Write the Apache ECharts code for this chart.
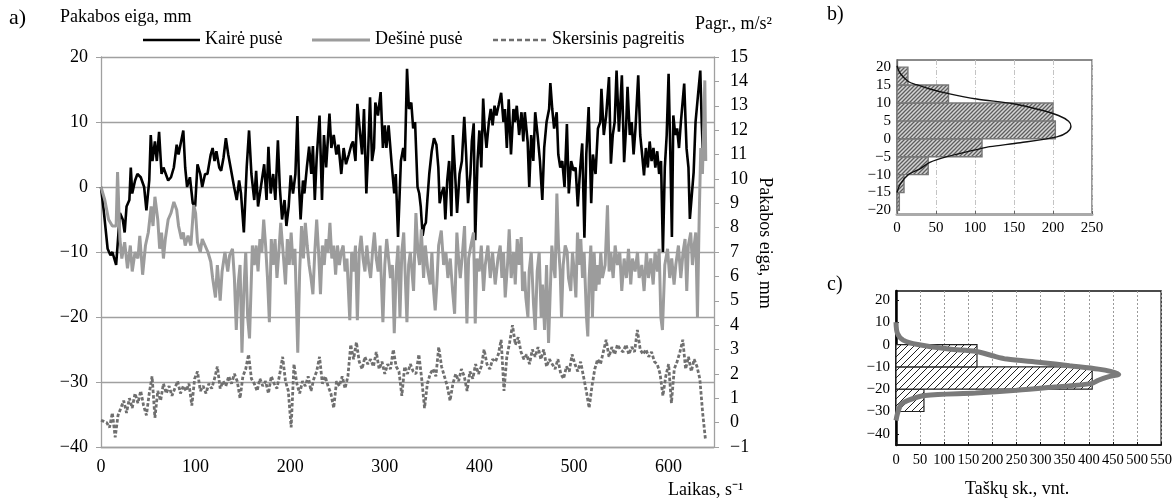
<!DOCTYPE html>
<html><head><meta charset="utf-8">
<script src="https://cdn.jsdelivr.net/npm/echarts@6/dist/echarts.min.js"></script>
<style>html,body{margin:0;padding:0;background:#fff}#c{width:1175px;height:500px}</style>
</head><body><div id="c"></div>
<script>
// ---- DATA ----
const xTicks = [0,100,200,300,400,500,600];
const bYTicks = [-20,-15,-10,-5,0,5,10,15,20];
const cYTicks = [-40,-30,-20,-10,0,10,20];
const legendNames = ['Kairė pusė','Dešinė pusė','Skersinis pagreitis'];

// Kairė pusė [time s, mm]
const kaire = [[0,0],[3,-3.8],[7,-9.5],[10,-10.5],[12,-10],[16,-12],[18,-12],[20,-4],[23,-5],[25,-7],[27,-3],[30,-2],[31.5,3],[33,-1],[36,1],[38.5,2],[42,1.5],[45.6,0],[48,-3.6],[51,1],[52.6,8],[54.4,4],[57,7],[59,4],[61.4,8.5],[64,2],[66,3],[68.5,2],[71,1],[74,1.5],[77,3],[80,6.5],[82,5],[84,6.5],[87,8.7],[89,3],[91,0],[94,1.5],[97,-2.5],[99.5,-3],[102,3.5],[105,2],[107,0],[110,2],[112.5,2],[116,5],[118,6],[120,4],[122,5.5],[125,3],[127,2.5],[129.5,4.5],[132,7.5],[134.5,5],[137,3],[140.7,0],[143.5,-2],[146,1],[148,-1],[151,-7],[154,3],[156.5,8.7],[159,2],[162,-2],[164,2.5],[166,-3],[169,0],[172.5,3.5],[175,-2],[177,6.2],[179.4,-1],[182,2],[184.3,-2],[187,7.2],[189,0],[191.4,-5],[194,-2],[196,-6],[198.4,-3],[200.5,1.8],[203,-1],[205.5,2],[207.6,10.9],[209.4,0],[211,-5],[213.5,1],[215,-1],[217.6,3],[220,6.2],[222.3,2],[224,6.3],[226,-2],[228,4.5],[231,11],[233.6,-2],[235.7,8],[238,3],[241.5,11.3],[243.5,6],[246,8],[248.8,5],[251,6.5],[254,2],[256.5,6],[259,3.5],[262,5],[264.7,6.5],[266.4,7],[269,4],[271,12.8],[273.4,9],[276,5],[278,12],[280.5,-1],[282.3,5],[284.4,13.8],[286.5,4],[288.6,6],[290,13],[292.8,11],[295.6,14.6],[298,6],[300,9.5],[301.7,6],[304,9.5],[307,4],[310,-1],[311.6,2],[314,-7.7],[317,4],[319.5,6],[321.2,4],[323.5,18.2],[325.5,12],[328,13],[330,9],[332,10],[334.6,0],[336.4,-1],[338,-3],[340,-7.5],[341.6,-6],[343.4,-5.5],[345,-2],[347,2],[349.6,5.5],[352,7.5],[354.6,6.5],[356.6,3],[358,-2.5],[360,-1],[362.4,0],[364,-5],[366,1],[368,4],[370.4,-4.5],[372,8],[374,3],[376.4,-4],[379,2],[381.5,4],[384,10.8],[386,5],[388,-2.5],[390.5,2],[392,7],[394,9.8],[395.6,-8.2],[398,4],[400,8.7],[402,3],[404,13.6],[405.6,9],[407.5,6],[410,10],[412,12],[414,9.5],[416,12.5],[418,11],[420.5,12.7],[423,14.5],[425.4,10],[427,12],[429,6],[431,13.5],[433.4,5],[436,12],[437.5,10],[439.5,12.5],[442,8],[444.5,11.5],[446.4,7],[448,11.5],[451,7],[452.7,0],[454.8,8],[457,4],[459,11.5],[461.5,8],[464,4],[466.5,-2],[468.5,6],[471,10],[473.7,12],[475,16],[477,12],[479,9],[481.7,11.5],[483.4,5],[485.5,3],[487.6,4],[490,0],[492.5,9.7],[494.5,-1],[497,4],[499.6,2.5],[501.7,3],[504,-3],[506.6,3],[508.7,6.7],[511,-7.8],[513,5],[515.5,12.3],[518.2,-2.5],[520,5],[522.8,2],[525.3,9],[527.8,10],[529,15.1],[531.5,8],[534,11],[537,16.9],[539,3.6],[541,8],[543,10],[545,17.9],[547.5,8.5],[550.6,17.2],[553,3.8],[555,9],[556.6,15.4],[559,8],[561,10],[563,5],[565,9],[567.9,17.2],[570,8],[572,5],[574,1.8],[576,6],[578,3],[580,7],[582,4],[584,6],[586,3],[588,5.5],[590,2],[592,4],[594,-10],[596,3],[598,8],[600,17.4],[602,4],[603.5,-7.7],[605,11],[607,8],[609,9],[611,6],[613,10],[616.5,15.9],[619,5.9],[621,3],[622.5,-4.9],[624.5,-5.1],[626.5,2.3],[628.5,10],[631,14],[633.5,17.9],[635,10],[636.5,4.4]];

// Dešinė pusė [time s, mm]
const desine = [[0,0],[4,-2],[8,-5],[12,-6],[16,-6],[17.5,2.3],[20,-8],[22,-11],[25,-8.5],[28,-12.5],[31,-9],[33,-13],[36,-10],[39,-11],[41,-7.5],[44,-13.5],[47,-9],[50,-7],[53,-3],[55,-6],[57,-1.5],[60,-5],[62,-9.5],[64,-7],[66,-11],[68,-8],[71,-5],[74,-4],[77,-2.3],[80,-3.5],[82,-6],[85,-8],[87,-7],[89,-9],[92,-7.5],[95,-9],[98,-2.8],[100,-4],[102,-8.5],[105,-10],[107,-8],[110,-9],[113,-10],[116,-11.5],[118,-14],[121,-17],[123,-12],[126,-17.5],[128,-13],[131,-10],[134,-13],[136,-10.5],[139,-9.5],[141,-14],[143,-22],[145,-15],[147,-12],[149,-25.5],[151,-16],[153,-10],[155,-20],[157,-23.3],[160,-9],[162,-12],[164,-9],[166,-13],[168,-8],[170,-10],[172,-5],[174,-9],[176,-14],[178,-20.8],[180,-8],[182,-12],[184,-8],[186,-14],[188,-10],[190,-5.5],[193,-11],[195,-15],[197,-8],[199,-12],[201,-7],[203,-12],[205,-9.5],[208,-25.5],[210,-13],[212,-6],[214,-11],[216,-5.5],[218,-9],[220,-12],[222,-14],[224,-16.5],[226,-10],[228,-5],[230,-10],[232,-16.5],[234,-9],[236,-12],[238,-8],[240,-10],[242,-5.5],[244,-11],[246,-9],[248,-13.5],[250,-9],[252,-12],[254,-10],[256,-9],[258,-13],[260,-11],[263,-20.5],[265,-10],[267,-13],[269,-9],[271,-20.5],[273,-10],[275,-7.5],[277,-11],[279,-13],[281,-9],[283,-12],[285,-14],[287,-10],[289,-7],[291,-11],[293,-13],[295,-9],[298,-20.8],[300,-12],[302,-8],[304,-11],[306,-14],[308,-12],[310,-22.5],[312,-13],[314,-9],[316,-20],[318,-10],[320,-7],[321.7,-14],[323.4,-20.8],[325.2,-12],[327,-10],[328.7,-13],[330.4,-16],[332.9,-4],[335,-10],[336.8,-12],[338.6,-6.5],[341,-14],[342.8,-9],[345.6,-13],[348,-15],[349.8,-10],[351.6,-16],[353.3,-19],[355,-15],[356.9,-9],[359.7,-6.7],[362.2,-12],[364.6,-10],[366.7,-14],[369.2,-11],[371.7,-16],[373.8,-19.5],[376.2,-7],[378,-11],[379.8,-14],[382.2,-10],[384.3,-6],[386.8,-21],[388.6,-11],[391,-9],[393.8,-7],[395.6,-21],[397.4,-11],[399.8,-13],[402,-9],[404.4,-16],[406.2,-12],[409,-9],[411.5,-14],[413.9,-10],[416.7,-15],[419.6,-11],[422,-9],[423.8,-14],[425.5,-10],[427.3,-17],[429.7,-12],[431.5,-6.5],[433.6,-14],[436.1,-10],[437.9,-15],[440,-8],[442.1,-12],[444.2,-7.7],[445.6,-16],[447.7,-13],[449.1,-17],[451.3,-20],[452.6,-13],[454.8,-10],[457.2,-18],[459,-22],[461.1,-13],[463.2,-10],[465.3,-20],[466.7,-15],[468.9,-22],[471,-12],[473.1,-24],[474.9,-16],[476.6,-9],[478.3,-12],[480,-14],[481.9,-1],[483.6,-9],[485.4,-13],[486.8,-20],[488.6,-12],[490.7,-9],[492.8,-10],[494.2,-14],[496.6,-16],[498.4,-10],[500.2,-13],[502,-17],[503.7,-7],[505.5,-12],[507.2,-8],[509,-14],[510.7,-10],[513.2,-20],[514.6,-23],[516,-14],[517.8,-9],[519.5,-20],[521.3,-10],[523,-16],[524.8,-12],[526.6,-15],[528.3,-10],[530,-14],[532.9,-12],[535.4,-2.8],[537.1,-13],[538.9,-10],[541.4,-14],[543.5,-9],[545.9,-12],[548.4,-10],[550.5,-16],[553,-11],[555.4,-14],[557.6,-9.5],[560,-15],[561.8,-11],[564.6,-13],[567.1,-10],[568.9,-14],[571.7,-12],[574.1,-16],[576.6,-10],[578.7,-14],[581.2,-11],[583.7,-15],[585.7,-10],[588.2,-13],[590,-9.5],[591.8,-20],[593.5,-22],[596,-12],[598.9,-9.5],[601.2,-14],[603.3,-11],[605.8,-15],[607.6,-12],[610.4,-9],[612.9,-14],[615.3,-10],[617.4,-8],[619.2,-16],[620.9,-9],[623.4,-7],[625.2,-12],[627,-9],[628.7,-7],[630.5,-20],[632.3,-5],[634,6],[635.8,2],[638.3,16.4],[639.3,4]];

// Skersinis pagreitis, m/s^2, one value every accStep seconds from 0
const accStep = 3;
const pagreitis = [
0.1,0.05,0.0,-0.2,0.4,-0.6,0.3,0.6,0.9,0.4,
1.0,0.6,1.2,0.8,1.3,0.7,0.3,1.2,1.9,0.2,
1.3,0.9,1.6,1.2,1.5,1.1,1.4,1.7,1.2,1.5,
1.3,1.6,0.7,1.8,2.1,1.3,1.5,1.2,1.6,1.4,
1.8,2.3,1.4,1.7,1.5,1.9,1.6,2.0,1.7,1.0,
1.9,2.2,2.8,1.8,1.6,1.3,1.8,1.5,1.7,1.2,
1.9,1.6,1.4,2.0,2.7,1.7,1.3,-0.2,2.4,1.6,
1.2,1.7,1.5,1.9,1.3,1.8,2.1,2.7,1.6,1.9,
1.5,1.2,0.6,1.7,1.5,1.9,1.4,1.9,3.2,2.6,
3.3,2.5,2.2,2.7,2.4,2.6,2.3,2.9,2.2,2.5,
2.0,2.4,2.2,3.0,2.3,2.1,1.1,2.3,2.0,2.4,
2.1,2.0,2.8,1.8,0.6,1.6,2.0,2.2,1.9,3.1,
2.3,1.9,1.5,0.9,1.6,2.0,1.7,2.2,1.9,1.3,
2.1,1.8,2.4,2.0,2.3,3.0,2.4,2.2,2.6,2.5,
2.8,3.4,1.3,2.7,3.3,4.0,3.2,3.5,2.9,2.6,
2.8,2.4,3.0,2.7,3.1,2.6,3.0,2.3,2.6,2.4,
2.2,2.6,2.0,1.8,2.3,2.1,2.8,2.4,2.1,2.5,
1.9,1.3,0.6,1.5,2.2,2.6,2.4,2.9,3.4,2.7,
3.1,2.8,3.2,3.0,2.9,3.2,2.8,3.1,2.9,3.8,
3.0,2.8,3.0,2.7,2.9,2.5,2.4,2.0,1.1,1.9,
2.4,0.8,2.2,2.5,2.9,3.4,2.2,2.7,2.1,2.6,
2.3,1.8,0.4,-0.7];

// Panel b histogram [from, to, count] and fitted curve [count, value]
const bBins = [[-20,-15,3],[-15,-10,9],[-10,-5,40],[-5,0,109],[0,5,203],[5,10,200],[10,15,66],[15,20,14]];
const bCurve = [[0,20.4],[4,18.3],[14.5,16],[25,15.1],[42,13.9],[66,12.6],[102,11.1],[149,9.8],[183,8.1],[207,6.5],[220,4.9],[223,3.5],[218,1.8],[205,0.55],[158,-1.1],[119,-2.2],[106,-2.8],[64,-5],[42,-6.6],[30,-8.3],[14.5,-10],[4,-12.7],[0,-15]];

// Panel c histogram and curve
const cBins = [[-30,-20,58],[-20,-10,407],[-10,0,168]];
const cCurve = [[0,10],[3,5],[15,2],[45,0],[110,-2],[165,-3],[200,-5],[230,-6.5],[300,-8],[360,-9.5],[420,-11],[445,-12],[462,-13.3],[440,-14.5],[420,-16],[405,-17.5],[330,-19],[250,-20.5],[165,-21.7],[60,-22.8],[25,-25],[10,-27],[3,-31],[0,-34]];

// ---- STYLE / BUILD ----
const FF = "'Liberation Serif','Times New Roman',serif";
const minus = v => String(v).replace('-', '\u2212');
function hatch(size, bg, fg, lw) {
  const c = document.createElement('canvas'); c.width = size; c.height = size;
  const x = c.getContext('2d');
  x.fillStyle = bg; x.fillRect(0, 0, size, size);
  x.strokeStyle = fg; x.lineWidth = lw; x.beginPath();
  x.moveTo(0, size); x.lineTo(size, 0);
  x.moveTo(-size/2, size/2); x.lineTo(size/2, -size/2);
  x.moveTo(size/2, size*1.5); x.lineTo(size*1.5, size/2);
  x.stroke();
  return c;
}
const patB = hatch(4, '#d4d4d4', '#5e5e5e', 1.3);
const patC = hatch(7, '#ffffff', '#222222', 1);
function histRender(pat, stroke, lw) {
  return function (params, api) {
    const lo = api.value(0), hi = api.value(1), n = api.value(2);
    const a = api.coord([0, hi]), b = api.coord([n, lo]);
    return { type: 'rect', shape: { x: a[0], y: a[1], width: b[0] - a[0], height: b[1] - a[1] },
      style: { fill: { image: pat, repeat: 'repeat' }, stroke: stroke, lineWidth: lw } };
  };
}
const accData = pagreitis.map((v, i) => [i * accStep, v]);
const gridGray = '#a0a0a0';
const lbl = (size, extra) => Object.assign({ color: '#000', fontFamily: FF, fontSize: size }, extra || {});
const txt = (left, top, text, size, extra) => Object.assign({ type: 'text', left: left, top: top,
  style: { text: text, font: size + 'px ' + FF, fill: '#000' } }, extra || {});
const legLine = (x1, x2, y, color, w, dash) => ({ type: 'line', shape: { x1: x1, y1: y, x2: x2, y2: y },
  style: { stroke: color, lineWidth: w, lineDash: dash || null } });

const chart = echarts.init(document.getElementById('c'), null, { renderer: 'canvas' });
chart.setOption({
  animation: false,
  backgroundColor: '#fff',
  textStyle: { fontFamily: FF },
  grid: [
    { left: 101, top: 57, width: 613, height: 390 },
    { left: 897, top: 60, width: 195, height: 154, show: true, borderColor: '#666', borderWidth: 1.3 },
    { left: 896, top: 291, width: 269, height: 154, show: true, borderColor: '#111', borderWidth: 1.3 }
  ],
  xAxis: [
    { gridIndex: 0, type: 'value', min: 0, max: 648, interval: 100,
      axisLine: { show: true, onZero: false, lineStyle: { color: gridGray, width: 1.3 } }, axisTick: { show: false },
      splitLine: { show: false },
      axisLabel: lbl(18, { margin: 11, customValues: xTicks, formatter: minus }) },
    { gridIndex: 1, type: 'value', min: 0, max: 250, interval: 50,
      axisLine: { show: true, onZero: false, lineStyle: { color: '#aaa', width: 3 } },
      axisTick: { show: true, inside: true, length: 3, lineStyle: { color: '#666' } },
      splitLine: { show: true, lineStyle: { color: '#c4c4c4', width: 1, type: [5, 2, 1, 2] } },
      axisLabel: lbl(15, { margin: 7 }) },
    { gridIndex: 2, type: 'value', min: 0, max: 550, interval: 50,
      axisLine: { show: true, onZero: false, lineStyle: { color: '#111', width: 1.5 } },
      axisTick: { show: true, inside: true, length: 3, lineStyle: { color: '#111' } },
      splitLine: { show: true, lineStyle: { color: '#9a9a9a', width: 1, type: [2, 2] } },
      axisLabel: lbl(14.5, { margin: 8 }) }
  ],
  yAxis: [
    { gridIndex: 0, type: 'value', min: -40, max: 20, interval: 10, position: 'left',
      axisLine: { show: true, onZero: false, lineStyle: { color: gridGray, width: 1.3 } },
      axisTick: { show: true, length: 5, lineStyle: { color: gridGray } },
      splitLine: { show: true, lineStyle: { color: gridGray, width: 1.3 } },
      axisLabel: lbl(18, { margin: 13, formatter: minus }) },
    { gridIndex: 0, type: 'value', min: -1, max: 15, interval: 1, position: 'right',
      axisLine: { show: true, onZero: false, lineStyle: { color: gridGray, width: 1.3 } },
      axisTick: { show: true, length: 5, lineStyle: { color: gridGray } },
      splitLine: { show: false },
      axisLabel: lbl(18, { margin: 16, formatter: minus }) },
    { gridIndex: 1, type: 'value', min: -21, max: 22,
      axisLine: { show: true, onZero: false, lineStyle: { color: '#666', width: 1.3 } },
      axisTick: { show: true, inside: true, length: 3, customValues: bYTicks, lineStyle: { color: '#444' } },
      splitLine: { show: false },
      axisLabel: lbl(15, { margin: 6, customValues: bYTicks, formatter: minus }) },
    { gridIndex: 2, type: 'value', min: -45, max: 24,
      axisLine: { show: true, onZero: false, lineStyle: { color: '#000', width: 2.5 } },
      axisTick: { show: true, inside: true, length: 3, customValues: cYTicks, lineStyle: { color: '#111' } },
      splitLine: { show: false },
      axisLabel: lbl(15, { margin: 6, customValues: cYTicks, formatter: minus }) }
  ],
  series: [
    { name: legendNames[0], type: 'line', xAxisIndex: 0, yAxisIndex: 0, data: kaire, symbol: 'none',
      lineStyle: { color: '#000', width: 2.6 }, itemStyle: { color: '#000' }, z: 3 },
    { name: legendNames[1], type: 'line', xAxisIndex: 0, yAxisIndex: 0, data: desine, symbol: 'none',
      lineStyle: { color: '#9c9c9c', width: 3 }, itemStyle: { color: '#9c9c9c' }, z: 4 },
    { name: legendNames[2], type: 'line', xAxisIndex: 0, yAxisIndex: 1, data: accData, symbol: 'none',
      lineStyle: { color: '#6f6f6f', width: 2.8, type: [3.5, 2] }, itemStyle: { color: '#6f6f6f' }, z: 5 },
    { type: 'custom', xAxisIndex: 1, yAxisIndex: 2, data: bBins, encode: { x: 2, y: [0, 1] },
      renderItem: histRender(patB, '#777', 1.4), z: 2 },
    { type: 'line', xAxisIndex: 1, yAxisIndex: 2, data: bCurve, symbol: 'none', smooth: 0.3,
      lineStyle: { color: '#111', width: 1.4 }, z: 3 },
    { type: 'custom', xAxisIndex: 2, yAxisIndex: 3, data: cBins, encode: { x: 2, y: [0, 1] },
      renderItem: histRender(patC, '#222', 1.2), z: 2 },
    { type: 'line', xAxisIndex: 2, yAxisIndex: 3, data: cCurve, symbol: 'none', smooth: 0.3,
      lineStyle: { color: '#7a7a7a', width: 5 }, z: 3 }
  ],
  graphic: [
    txt(9, 7, 'a)', 22),
    txt(60, 8, 'Pakabos eiga, mm', 18),
    txt(695, 15, 'Pagr., m/s²', 18),
    { type: 'text', x: 765, y: 243, rotation: -Math.PI / 2,
      style: { text: 'Pakabos eiga, mm', font: '18px ' + FF, fill: '#000', align: 'center', verticalAlign: 'middle' } },
    txt(668, 481, 'Laikas, s⁻¹', 18),
    txt(827, 5, 'b)', 20),
    txt(827, 275, 'c)', 20),
    txt(965, 480, 'Taškų sk., vnt.', 18),
    legLine(143, 200, 40, '#000', 2.6),
    txt(205, 30, legendNames[0], 18),
    legLine(312, 370, 40, '#9c9c9c', 3),
    txt(375, 30, legendNames[1], 18),
    legLine(493, 546, 40, '#6f6f6f', 2.6, [5, 3]),
    txt(552, 30, legendNames[2], 18)
  ]
});
</script></body></html>
